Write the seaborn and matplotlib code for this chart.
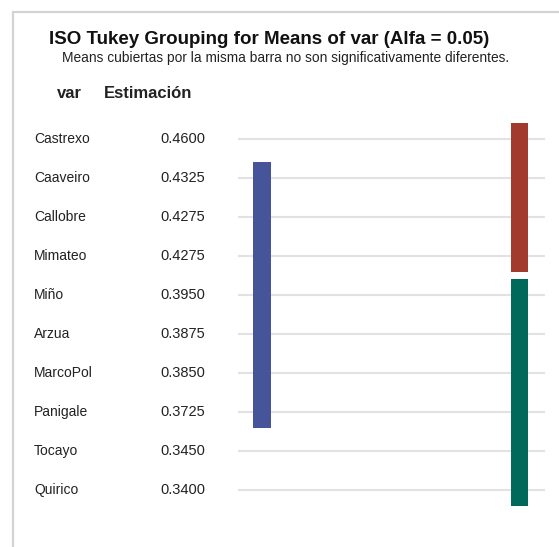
import matplotlib
matplotlib.use("Agg")
import matplotlib.pyplot as plt
import matplotlib.transforms as mtransforms
from matplotlib.patches import Rectangle
import seaborn as sns

# Tukey grouping table
varieties = ["Castrexo", "Caaveiro", "Callobre", "Mimateo", "Miño",
             "Arzua", "MarcoPol", "Panigale", "Tocayo", "Quirico"]
estimates = [0.4600, 0.4325, 0.4275, 0.4275, 0.3950,
             0.3875, 0.3850, 0.3725, 0.3450, 0.3400]

# Grouping bars: column, first variety, last variety
group_column = [0, 1, 1]
group_first = ["Caaveiro", "Castrexo", "Miño"]
group_last = ["Panigale", "Mimateo", "Quirico"]
group_colors = ["#46559a", "#a23a2e", "#00695c"]

sns.set_theme(style="white")
plt.rcParams["font.family"] = ["Liberation Sans", "DejaVu Sans"]

W, H = 559, 547
fig = plt.figure(figsize=(W / 100, H / 100), dpi=100)
fig.patch.set_facecolor("white")

# outer frame
fig.add_artist(Rectangle((13 / W, -0.05), 1.2, (H - 12) / H + 0.05,
                         transform=fig.transFigure, fill=False,
                         edgecolor="#d4d4d4", linewidth=1.6))

# bar panel: one row per variety
ax_left, ax_right = 238, 545
ax_top, ax_bot = 100, 529
ax = fig.add_axes([ax_left / W, (H - ax_bot) / H,
                   (ax_right - ax_left) / W, (ax_bot - ax_top) / H])
ax.set_facecolor("none")
rows = list(range(len(varieties)))
ax.set_ylim(len(varieties), -1)
ax.set_xlim(-0.093, 1.097)
ax.set_yticks(rows)
ax.set_xticks([])
ax.tick_params(left=False, labelleft=False)
ax.grid(axis="y", color="#e2e2e2", linewidth=1.5)
ax.grid(axis="x", visible=False)
sns.despine(ax=ax, left=True, bottom=True)

pad = 0.41
for col, first, last, color in zip(group_column, group_first, group_last, group_colors):
    i0, i1 = varieties.index(first), varieties.index(last)
    ax.bar(col, (i1 - i0) + 2 * pad, bottom=i0 - pad, width=0.066,
           color=color, linewidth=0, zorder=3)

# table columns aligned with the panel rows
trans = mtransforms.blended_transform_factory(fig.transFigure, ax.transData)
for i, (name, est) in enumerate(zip(varieties, estimates)):
    ax.text(34 / W, i, name, transform=trans, ha="left", va="center",
            fontsize=10, color="#222222", clip_on=False)
    ax.text(205 / W, i, f"{est:.4f}", transform=trans, ha="right", va="center",
            fontsize=10.5, color="#222222", clip_on=False)

fig.text(69 / W, 1 - 93 / H, "var", ha="center", va="center",
         fontsize=12, fontweight="bold", color="#222222")
fig.text(148 / W, 1 - 93 / H, "Estimación", ha="center", va="center",
         fontsize=12, fontweight="bold", color="#222222")

fig.text(269 / W, 1 - 39 / H, "ISO Tukey Grouping for Means of var (Alfa = 0.05)",
         ha="center", va="center", fontsize=13.5, fontweight="bold", color="#111111")
fig.text(286 / W, 1 - 58 / H,
         "Means cubiertas por la misma barra no son significativamente diferentes.",
         ha="center", va="center", fontsize=9.9, color="#222222")

fig.savefig("out.png", dpi=100, facecolor="white")
